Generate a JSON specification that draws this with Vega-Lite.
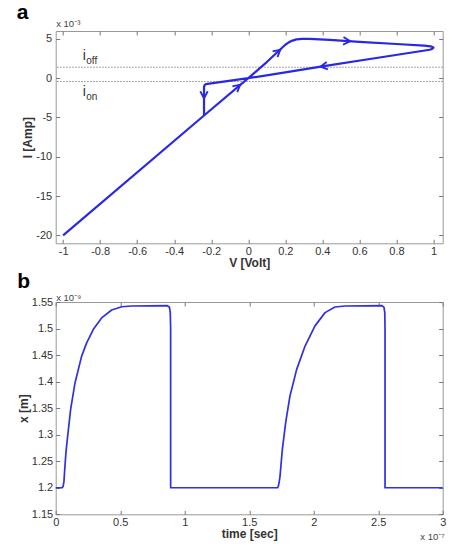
{
  "$schema": "https://vega.github.io/schema/vega-lite/v6.json",
  "autosize": {"type": "none"},
  "padding": {"left": 55.7, "top": 31, "right": 413.3, "bottom": 516},
  "background": "white",
  "spacing": 58,
  "bounds": "flush",
  "datasets": {
    "iv": [
      {"V": -1, "I": -20},
      {"V": -0.239, "I": -4.75},
      {"V": 0, "I": 0},
      {"V": 0.1, "I": 2.05},
      {"V": 0.2, "I": 4.25},
      {"V": 0.215, "I": 4.5},
      {"V": 0.235, "I": 4.75},
      {"V": 0.26, "I": 4.93},
      {"V": 0.29, "I": 5.0},
      {"V": 0.33, "I": 5.0},
      {"V": 0.44, "I": 4.87},
      {"V": 0.6, "I": 4.62},
      {"V": 0.8, "I": 4.35},
      {"V": 0.95, "I": 4.15},
      {"V": 0.985, "I": 4.05},
      {"V": 1.0, "I": 3.9},
      {"V": 0.995, "I": 3.75},
      {"V": 0.98, "I": 3.62},
      {"V": 0.7, "I": 2.6},
      {"V": 0.4, "I": 1.5},
      {"V": 0.2, "I": 0.74},
      {"V": 0, "I": 0},
      {"V": -0.229, "I": -0.75},
      {"V": -0.236, "I": -0.88},
      {"V": -0.239, "I": -1.1},
      {"V": -0.239, "I": -4.75}
    ],
    "ivArrows": [
      {"V": -0.052, "I": -1.0, "dir": "upright"},
      {"V": 0.165, "I": 3.45, "dir": "upright"},
      {"V": 0.54, "I": 4.71, "dir": "right"},
      {"V": 0.40, "I": 1.5, "dir": "left"},
      {"V": -0.239, "I": -2.3, "dir": "down"}
    ],
    "ivLevels": [
      {"name": "i_off", "I": 1.39},
      {"name": "i_on", "I": -0.42}
    ],
    "ivLabels": [
      {"V": -0.894, "I": 2.31, "main": "i", "sub": "off"},
      {"V": -0.894, "I": -2.29, "main": "i", "sub": "on"}
    ],
    "xt": [
      {"t": 0, "x": 1.2},
      {"t": 0.05, "x": 1.2},
      {"t": 0.058, "x": 1.203},
      {"t": 0.064, "x": 1.212},
      {"t": 0.07, "x": 1.235},
      {"t": 0.08, "x": 1.268},
      {"t": 0.093, "x": 1.298},
      {"t": 0.116, "x": 1.348},
      {"t": 0.15, "x": 1.398},
      {"t": 0.201, "x": 1.448},
      {"t": 0.24, "x": 1.473},
      {"t": 0.292, "x": 1.4985},
      {"t": 0.356, "x": 1.52},
      {"t": 0.434, "x": 1.535},
      {"t": 0.512, "x": 1.541},
      {"t": 0.589, "x": 1.5425},
      {"t": 0.865, "x": 1.543},
      {"t": 0.882, "x": 1.54},
      {"t": 0.888, "x": 1.53},
      {"t": 0.891, "x": 1.5},
      {"t": 0.891, "x": 1.2},
      {"t": 1.721, "x": 1.2},
      {"t": 1.728, "x": 1.205},
      {"t": 1.734, "x": 1.213},
      {"t": 1.739, "x": 1.222},
      {"t": 1.757, "x": 1.2725},
      {"t": 1.783, "x": 1.323},
      {"t": 1.816, "x": 1.373},
      {"t": 1.868, "x": 1.423},
      {"t": 1.933, "x": 1.467},
      {"t": 2.01, "x": 1.505},
      {"t": 2.088, "x": 1.53},
      {"t": 2.165, "x": 1.5406},
      {"t": 2.243, "x": 1.5425},
      {"t": 2.53, "x": 1.543},
      {"t": 2.545, "x": 1.54},
      {"t": 2.551, "x": 1.53},
      {"t": 2.553, "x": 1.5},
      {"t": 2.553, "x": 1.2},
      {"t": 3.0, "x": 1.2}
    ],
    "xtNote": [
      {"t": 3, "x": 1.15, "label": "x 10⁻⁷"}
    ]
  },
  "vconcat": [
    {
      "width": 387,
      "height": 212.3,
      "title": {"text": "a", "anchor": "start", "frame": "group", "dx": -39, "dy": 21, "offset": 0, "baseline": "alphabetic", "fontSize": 21, "fontWeight": "bold", "color": "#000", "font": "Liberation Sans"},
      "layer": [
        {
          "data": {"name": "ivLevels"},
          "mark": {"type": "rule", "color": "#8a8a8a", "strokeDash": [1.5, 1.5], "strokeWidth": 1},
          "encoding": {
            "y": {"field": "I", "type": "quantitative", "scale": {"domain": [-21, 6], "nice": false, "zero": false}, "axis": null}
          }
        },
        {
          "data": {"name": "iv"},
          "mark": {"type": "line", "color": "#2828e6", "strokeWidth": 2.2, "strokeJoin": "round"},
          "encoding": {
            "x": {"field": "V", "type": "quantitative", "scale": {"domain": [-1.04, 1.05], "nice": false, "zero": false},
              "axis": {"orient": "bottom", "values": [-1, -0.8, -0.6, -0.4, -0.2, 0, 0.2, 0.4, 0.6, 0.8, 1], "title": "V [Volt]", "labelExpr": "replace(format(datum.value,'~g'),'−','-')", "labelPadding": 6.5, "titlePadding": 1}},
            "y": {"field": "I", "type": "quantitative", "scale": {"domain": [-21, 6], "nice": false, "zero": false},
              "axis": {"orient": "left", "values": [-20, -15, -10, -5, 0, 5], "title": "I [Amp]", "labelExpr": "replace(format(datum.value,'~g'),'−','-')", "labelPadding": 8, "titlePadding": 1}},
            "order": {"value": null}
          }
        },
        {
          "data": {"name": "ivArrows"},
          "transform": [{"filter": "datum.dir === 'upright'"}],
          "mark": {"type": "point", "shape": "M -1 -0.75 L 0.4 0 L -1 0.75", "filled": false, "stroke": "#2828e6", "strokeWidth": 1.8, "opacity": 1, "size": 100, "angle": 319.6},
          "encoding": {
            "x": {"field": "V", "type": "quantitative", "scale": {"domain": [-1.04, 1.05], "nice": false, "zero": false},
              "axis": {"orient": "top", "values": [-1, -0.8, -0.6, -0.4, -0.2, 0, 0.2, 0.4, 0.6, 0.8, 1], "labels": false, "title": "x 10⁻³", "titleAnchor": "start", "titleAlign": "left", "titleBaseline": "alphabetic", "titleFontSize": 9.5, "titleFontWeight": "normal", "titleColor": "#444", "titlePadding": 4}},
            "y": {"field": "I", "type": "quantitative", "scale": {"domain": [-21, 6], "nice": false, "zero": false},
              "axis": {"orient": "right", "values": [-20, -15, -10, -5, 0, 5], "labels": false, "title": null}}
          }
        },
        {
          "data": {"name": "ivArrows"},
          "transform": [{"filter": "datum.dir === 'right'"}],
          "mark": {"type": "point", "shape": "M -1 -0.75 L 0.4 0 L -1 0.75", "filled": false, "stroke": "#2828e6", "strokeWidth": 1.8, "opacity": 1, "size": 100, "angle": 3.4},
          "encoding": {
            "x": {"field": "V", "type": "quantitative", "scale": {"domain": [-1.04, 1.05], "nice": false, "zero": false}, "axis": null},
            "y": {"field": "I", "type": "quantitative", "scale": {"domain": [-21, 6], "nice": false, "zero": false}, "axis": null}
          }
        },
        {
          "data": {"name": "ivArrows"},
          "transform": [{"filter": "datum.dir === 'left'"}],
          "mark": {"type": "point", "shape": "M -1 -0.75 L 0.4 0 L -1 0.75", "filled": false, "stroke": "#2828e6", "strokeWidth": 1.8, "opacity": 1, "size": 100, "angle": 171.5},
          "encoding": {
            "x": {"field": "V", "type": "quantitative", "scale": {"domain": [-1.04, 1.05], "nice": false, "zero": false}, "axis": null},
            "y": {"field": "I", "type": "quantitative", "scale": {"domain": [-21, 6], "nice": false, "zero": false}, "axis": null}
          }
        },
        {
          "data": {"name": "ivArrows"},
          "transform": [{"filter": "datum.dir === 'down'"}],
          "mark": {"type": "point", "shape": "M -1 -0.75 L 0.4 0 L -1 0.75", "filled": false, "stroke": "#2828e6", "strokeWidth": 1.8, "opacity": 1, "size": 100, "angle": 90},
          "encoding": {
            "x": {"field": "V", "type": "quantitative", "scale": {"domain": [-1.04, 1.05], "nice": false, "zero": false}, "axis": null},
            "y": {"field": "I", "type": "quantitative", "scale": {"domain": [-21, 6], "nice": false, "zero": false}, "axis": null}
          }
        },
        {
          "data": {"name": "ivLabels"},
          "mark": {"type": "text", "align": "left", "baseline": "alphabetic", "fontSize": 14, "color": "#333", "font": "Liberation Sans"},
          "encoding": {
            "x": {"field": "V", "type": "quantitative", "scale": {"domain": [-1.04, 1.05], "nice": false, "zero": false}, "axis": null},
            "y": {"field": "I", "type": "quantitative", "scale": {"domain": [-21, 6], "nice": false, "zero": false}, "axis": null},
            "text": {"field": "main"}
          }
        },
        {
          "data": {"name": "ivLabels"},
          "mark": {"type": "text", "align": "left", "baseline": "alphabetic", "fontSize": 10, "dx": 3.5, "dy": 4, "color": "#333", "font": "Liberation Sans"},
          "encoding": {
            "x": {"field": "V", "type": "quantitative", "scale": {"domain": [-1.04, 1.05], "nice": false, "zero": false}, "axis": null},
            "y": {"field": "I", "type": "quantitative", "scale": {"domain": [-21, 6], "nice": false, "zero": false}, "axis": null},
            "text": {"field": "sub"}
          }
        }
      ]
    },
    {
      "width": 387,
      "height": 212.3,
      "title": {"text": "b", "anchor": "start", "frame": "group", "dx": -38.5, "dy": 16, "offset": 0, "baseline": "alphabetic", "fontSize": 21, "fontWeight": "bold", "color": "#000", "font": "Liberation Sans"},
      "layer": [
        {
          "data": {"name": "xt"},
          "mark": {"type": "line", "color": "#3030e2", "strokeWidth": 1.7, "strokeJoin": "round"},
          "encoding": {
            "x": {"field": "t", "type": "quantitative", "scale": {"domain": [0, 3], "nice": false, "zero": false},
              "axis": {"orient": "bottom", "values": [0, 0.5, 1, 1.5, 2, 2.5, 3], "title": "time [sec]", "labelExpr": "format(datum.value,'~g')", "labelPadding": 6.5, "titlePadding": 1}},
            "y": {"field": "x", "type": "quantitative", "scale": {"domain": [1.15, 1.55], "nice": false, "zero": false},
              "axis": {"orient": "left", "values": [1.15, 1.2, 1.25, 1.3, 1.35, 1.4, 1.45, 1.5, 1.55], "title": "x [m]", "labelExpr": "format(datum.value,'~g')", "labelPadding": 7, "titlePadding": 1}},
            "order": {"value": null}
          }
        },
        {
          "data": {"name": "xtNote"},
          "mark": {"type": "text", "align": "right", "baseline": "alphabetic", "dx": 2, "dy": 26, "fontSize": 9.5, "color": "#444", "font": "Liberation Sans"},
          "encoding": {
            "x": {"field": "t", "type": "quantitative", "scale": {"domain": [0, 3], "nice": false, "zero": false},
              "axis": {"orient": "top", "values": [0, 0.5, 1, 1.5, 2, 2.5, 3], "labels": false, "title": "x 10⁻⁹", "titleAnchor": "start", "titleAlign": "left", "titleBaseline": "alphabetic", "titleFontSize": 9.5, "titleFontWeight": "normal", "titleColor": "#444", "titlePadding": 1}},
            "y": {"field": "x", "type": "quantitative", "scale": {"domain": [1.15, 1.55], "nice": false, "zero": false},
              "axis": {"orient": "right", "values": [1.15, 1.2, 1.25, 1.3, 1.35, 1.4, 1.45, 1.5, 1.55], "labels": false, "title": null}},
            "text": {"field": "label"}
          }
        }
      ]
    }
  ],
  "config": {
    "font": "Liberation Sans",
    "view": {"stroke": "#999999", "strokeWidth": 1},
    "axis": {
      "domain": false,
      "grid": false,
      "tickSize": -4,
      "tickColor": "#777777",
      "tickWidth": 1,
      "minExtent": 0,
      "labelFont": "Liberation Sans",
      "labelFontSize": 11,
      "labelColor": "#333333",
      "labelFlush": false,
      "labelOverlap": false,
      "labelBound": false,
      "titleFont": "Liberation Sans",
      "titleFontSize": 12,
      "titleFontWeight": "bold",
      "titleColor": "#333333"
    }
  }
}
